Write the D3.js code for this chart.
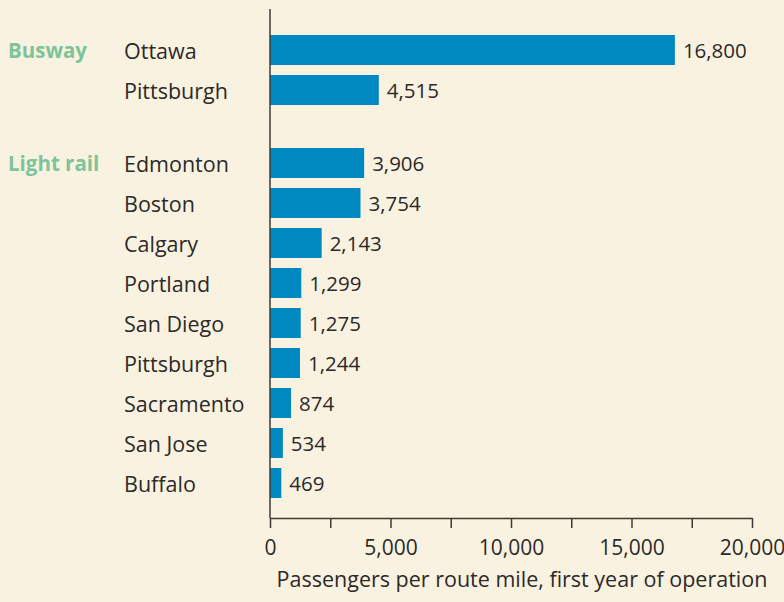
<!DOCTYPE html>
<html>
<head>
<meta charset="utf-8">
<script src="https://cdn.jsdelivr.net/npm/d3@7"></script>
<style>
  html, body { margin: 0; padding: 0; background: #faf2e1; }
  svg { display: block; font-family: "Open Sans", sans-serif; }
</style>
</head>
<body>
<svg width="784" height="602"></svg>
<script>
// data
const groups = ["Busway", "Light rail"];
const cities = [
  ["Ottawa", "Pittsburgh"],
  ["Edmonton", "Boston", "Calgary", "Portland", "San Diego", "Pittsburgh", "Sacramento", "San Jose", "Buffalo"]
];
const passengers = [
  [16800, 4515],
  [3906, 3754, 2143, 1299, 1275, 1244, 874, 534, 469]
];
const xTicks = [0, 2500, 5000, 7500, 10000, 12500, 15000, 17500, 20000];
const xTickLabels = [0, 5000, 10000, 15000, 20000];
const xTitle = "Passengers per route mile, first year of operation";

const width = 784;
const height = 602;
const margin = { top: 9, left: 270, right: 32, bottom: 84 };
const groupGap = 0.825; // extra rows between groups

// flatten into rows
let rows = [];
let slot = 0;
cities.forEach((list, g) => {
  list.forEach((city, i) => {
    rows.push({ group: g, first: i === 0, city: city, value: passengers[g][i], slot: slot });
    slot += 1;
  });
  slot += groupGap;
});

const svg = d3.select("svg");

// scales
const x = d3.scaleLinear()
  .domain([0, 20000])
  .range([margin.left, width - margin.right]);

// one slot = 40px, first bar starts at 35
const y = d3.scaleLinear()
  .domain([0, 1])
  .range([35, 75]);
const barH = 30;

// bars
svg.selectAll("rect.bar")
  .data(rows)
  .enter()
  .append("rect")
  .attr("class", "bar")
  .attr("x", x(0))
  .attr("y", d => y(d.slot))
  .attr("width", d => x(d.value) - x(0))
  .attr("height", barH)
  .attr("fill", "#0088c0");

// value labels
svg.selectAll("text.value")
  .data(rows)
  .enter()
  .append("text")
  .attr("class", "value")
  .attr("x", d => x(d.value) + 8)
  .attr("y", d => y(d.slot) + barH / 2 + 1)
  .attr("dy", "0.36em")
  .attr("font-size", 20.5)
  .attr("fill", "#2b2a28")
  .text(d => d3.format(",")(d.value));

// city labels
svg.selectAll("text.city")
  .data(rows)
  .enter()
  .append("text")
  .attr("class", "city")
  .attr("x", 124)
  .attr("y", d => y(d.slot) + barH / 2 + 1)
  .attr("dy", "0.36em")
  .attr("font-size", 21.5)
  .attr("fill", "#2b2a28")
  .text(d => d.city);

// group labels
svg.selectAll("text.group")
  .data(rows.filter(d => d.first))
  .enter()
  .append("text")
  .attr("class", "group")
  .attr("x", 8)
  .attr("y", d => y(d.slot) + barH / 2 + 1)
  .attr("dy", "0.36em")
  .attr("font-size", 20.5)
  .attr("font-weight", "bold")
  .attr("fill", "#7cc49a")
  .text(d => groups[d.group]);

// vertical baseline
const axisY = 518;
svg.append("line")
  .attr("x1", x(0)).attr("x2", x(0))
  .attr("y1", margin.top).attr("y2", axisY)
  .attr("stroke", "#3c3a37")
  .attr("stroke-width", 1.5);

// x axis
const xAxis = d3.axisBottom(x)
  .tickValues(xTicks)
  .tickSize(10)
  .tickSizeOuter(0)
  .tickPadding(12)
  .tickFormat(d => xTickLabels.includes(d) ? d3.format(",")(d) : "");

const gx = svg.append("g")
  .attr("transform", `translate(0, ${axisY})`)
  .call(xAxis);
gx.select(".domain").attr("stroke", "#3c3a37").attr("stroke-width", 1.5);
gx.selectAll(".tick line").attr("stroke", "#3c3a37").attr("stroke-width", 1.5);
gx.selectAll(".tick text")
  .attr("font-family", "Open Sans, sans-serif")
  .attr("font-size", 21)
  .attr("fill", "#2b2a28");

svg.append("text")
  .attr("x", 522)
  .attr("y", 587)
  .attr("text-anchor", "middle")
  .attr("font-size", 21.5)
  .attr("fill", "#2b2a28")
  .text(xTitle);
</script>
</body>
</html>
